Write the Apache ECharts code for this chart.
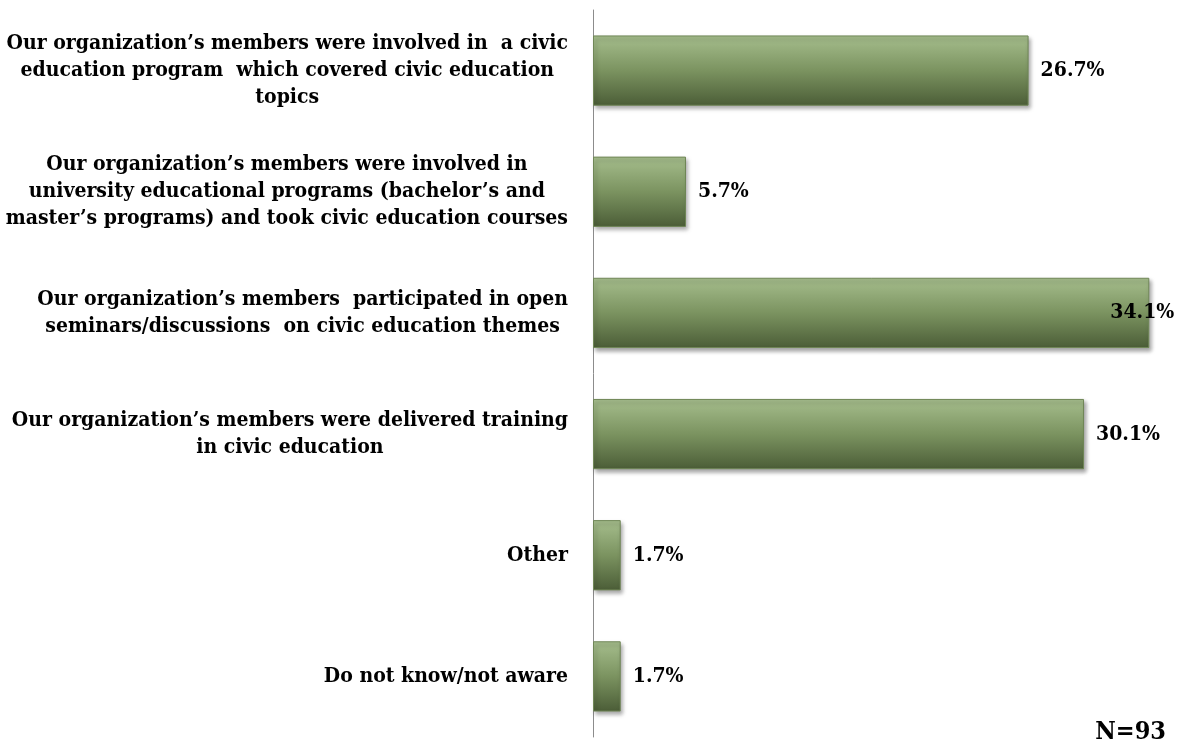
<!DOCTYPE html>
<html><head><meta charset="utf-8">
<script src="https://cdn.jsdelivr.net/npm/echarts@6/dist/echarts.min.js"></script>
<style>html,body{margin:0;padding:0;background:#fff}#c{width:1180px;height:746px}</style>
</head><body><div id="c"></div>
<script>
const categories = [
  "Our organization’s members were involved in  a civic\neducation program  which covered civic education\ntopics",
  "Our organization’s members were involved in\nuniversity educational programs (bachelor’s and\nmaster’s programs) and took civic education courses",
  "Our organization’s members  participated in open\nseminars/discussions  on civic education themes",
  "Our organization’s members were delivered training\nin civic education",
  "Other",
  "Do not know/not aware"
];
const values = [26.7, 5.7, 34.1, 30.1, 1.7, 1.7];
const footnote = "N=93";

const FONT = '"DejaVu Serif Condensed", "DejaVu Serif", serif';
const chart = echarts.init(document.getElementById('c'));
chart.setOption({
  animation: false,
  grid: {left: 593, right: 16, top: 10, bottom: 9, containLabel: false},
  xAxis: {type: 'value', min: 0, max: 35, show: false},
  yAxis: {
    type: 'category', data: categories, inverse: true,
    axisLine: {show: true, lineStyle: {color: '#8c8c8c', width: 1}},
    axisTick: {show: false},
    axisLabel: {
      margin: 25, align: 'right', lineHeight: 27,
      fontFamily: FONT, fontWeight: 'bold', fontSize: 21, color: '#000',
      formatter: v => v.split('\n').map(l => '{c|' + l + '}').join('\n'),
      rich: {c: {align: 'center', fontFamily: FONT, fontWeight: 'bold', fontSize: 21, color: '#000', lineHeight: 27}}
    }
  },
  series: [{
    type: 'bar', barCategoryGap: '42%',
    data: values.map((v, i) => v === 34.1 ? {value: v, label: {offset: [-51, 0]}} : v),
    itemStyle: {
      color: new echarts.graphic.LinearGradient(0, 0, 0, 1, [
        {offset: 0, color: '#a6be8d'},
        {offset: 0.5, color: '#7b9360'},
        {offset: 1, color: '#4b5d37'}
      ]),
      borderColor: '#6f8656', borderWidth: 1,
      shadowColor: 'rgba(0,0,0,0.35)', shadowBlur: 4, shadowOffsetX: 2, shadowOffsetY: 3
    },
    label: {
      show: true, position: 'right', distance: 12,
      formatter: p => p.value.toFixed(1) + '%',
      fontFamily: FONT, fontWeight: 'bold', fontSize: 21, color: '#000'
    }
  }],
  graphic: [{
    type: 'text', right: 14, top: 720,
    style: {text: footnote, fontFamily: FONT, fontWeight: 'bold', fontSize: 25, fill: '#000'}
  }]
});
</script></body></html>
